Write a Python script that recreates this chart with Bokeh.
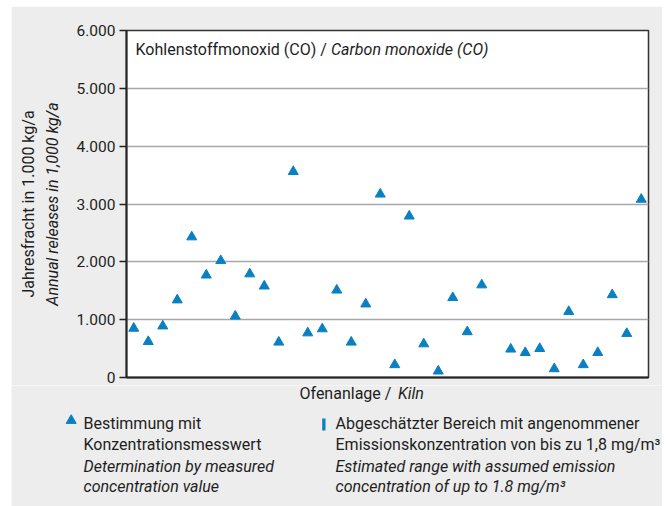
import math
from bokeh.plotting import figure
from bokeh.models import Range1d, FixedTicker, Label, ColumnDataSource, LinearAxis
from bokeh.embed import file_html
from bokeh.resources import INLINE

# ---- data ----
kilns = list(range(1, 37))
releases = [850, 620, 890, 1340, 2430, 1770, 2020, 1060, 1790, 1580,
            610, 3560, 770, 840, 1510, 610, 1270, 3170, 220, 2790,
            580, 110, 1380, 790, 1600, float("nan"), 490, 430, 500, 150,
            1140, 220, 430, 1430, 760, 3080]
y_ticks = [0, 1000, 2000, 3000, 4000, 5000, 6000]
y_tick_labels = ["0", "1.000", "2.000", "3.000", "4.000", "5.000", "6.000"]

FONT = "Roboto"
BLUE = "#0A80C2"
GRAY = "#ECEDEC"
TXT = "#1E1E1E"

P_BOTTOM = 8
p = figure(width=651, height=24 + 347 + P_BOTTOM, output_backend="svg", toolbar_location=None,
           x_range=Range1d(0.5, 36.5), y_range=Range1d(0, 6000),
           frame_width=522, frame_height=347,
           min_border_left=115, min_border_top=24, min_border_right=14,
           min_border_bottom=P_BOTTOM)
p.margin = (6, 0, 0, 11)
p.border_fill_color = GRAY
p.background_fill_color = "white"
p.outline_line_color = "#333333"
p.outline_line_width = 1.5

src = ColumnDataSource(dict(x=kilns, y=releases))
p.scatter("x", "y", source=src, marker="triangle", size=10,
          fill_color=BLUE, line_color=BLUE)

# axes
p.xaxis.ticker = FixedTicker(ticks=[])
p.xaxis.major_label_standoff = 0
p.xaxis.major_tick_out = 0
p.xaxis.major_tick_in = 0
p.xaxis.major_tick_line_color = None
p.xaxis.minor_tick_line_color = None
p.xaxis.axis_line_width = 2
p.xaxis.axis_line_color = "#222222"

p.yaxis.ticker = FixedTicker(ticks=y_ticks)
p.yaxis.major_label_overrides = {t: l for t, l in zip(y_ticks, y_tick_labels)}
p.yaxis.major_label_text_font = FONT
p.yaxis.major_label_text_font_size = "15.5px"
p.yaxis.major_label_text_line_height = 1.0
p.yaxis.major_label_text_color = TXT
p.yaxis.major_tick_out = 7
p.yaxis.major_tick_in = 0
p.yaxis.major_tick_line_width = 1.5
p.yaxis.major_tick_line_color = "#222222"
p.yaxis.minor_tick_line_color = None
p.yaxis.axis_line_width = 2
p.yaxis.axis_line_color = "#222222"
p.yaxis.major_label_standoff = 4
p.yaxis.axis_label = "Annual releases in 1,000 kg/a"
p.yaxis.axis_label_text_font = FONT
p.yaxis.axis_label_text_font_size = "16px"
p.yaxis.axis_label_text_font_style = "italic"
p.yaxis.axis_label_text_color = TXT
p.yaxis.axis_label_standoff = 12

outer = LinearAxis(ticker=FixedTicker(ticks=[]), axis_line_color=None,
                   major_tick_line_color=None, minor_tick_line_color=None,
                   major_tick_out=0, major_tick_in=0, major_label_standoff=0,
                   axis_label="Jahresfracht in 1.000 kg/a", axis_label_standoff=2,
                   axis_label_text_font=FONT, axis_label_text_font_size="16px",
                   axis_label_text_font_style="normal", axis_label_text_color=TXT)
p.add_layout(outer, "left")

p.xgrid.grid_line_color = None
p.ygrid.grid_line_color = "#A8A8A8"
p.ygrid.grid_line_width = 1.5

# title inside the frame (frame-relative screen coords)
FL, FB = 126, 377
for txt, px, st in [("Kohlenstoffmonoxid (CO) /", 135, "normal"),
                    ("Carbon monoxide (CO)", 330.5, "italic")]:
    p.add_layout(Label(x=px - FL, y=FB - 49, x_units="screen", y_units="screen",
                       text=txt, text_font=FONT, text_font_size="16px",
                       text_font_style=st, text_color=TXT, text_baseline="alphabetic"))

# ---- lower panel: x label and legend ----
Q_TOP = 6 + 24 + 347 + P_BOTTOM
QL, QB = 11, 506
q = figure(width=651, height=QB - Q_TOP, output_backend="svg", toolbar_location=None,
           x_range=Range1d(0, 651), y_range=Range1d(0, QB - Q_TOP),
           frame_width=651, frame_height=QB - Q_TOP, min_border=0,
           x_axis_type=None, y_axis_type=None)
q.margin = (0, 0, 0, 11)
q.border_fill_color = GRAY
q.background_fill_color = GRAY
q.outline_line_color = None


def qlab(text, px, py, size=16, style="normal"):
    q.add_layout(Label(x=px - QL, y=QB - py, x_units="screen", y_units="screen",
                       text=text, text_font=FONT, text_font_size=f"{size}px",
                       text_font_style=style, text_color=TXT, text_baseline="alphabetic"))


qlab("Ofenanlage /", 299, 393)
qlab("Kiln", 397.5, 393, style="italic")

# legend keys
q.scatter(x=[70.7 - QL], y=[QB - 420], marker="triangle", size=10,
          fill_color=BLUE, line_color=BLUE)
q.quad(left=[321.7 - QL], right=[325 - QL], bottom=[QB - 430], top=[QB - 418],
       fill_color=BLUE, line_color=None)

qlab("Bestimmung mit", 83, 423)
qlab("Konzentrationsmesswert", 83, 444)
qlab("Determination by measured", 83, 466, style="italic")
qlab("concentration value", 83, 486, style="italic")

qlab("Abgeschätzter Bereich mit angenommener", 335, 423)
qlab("Emissionskonzentration von bis zu 1,8 mg/m³", 335, 444)
qlab("Estimated range with assumed emission", 335, 466, style="italic")
qlab("concentration of up to 1.8 mg/m³", 335, 486, style="italic")

open("out.html", "w").write(file_html([p, q], INLINE))
